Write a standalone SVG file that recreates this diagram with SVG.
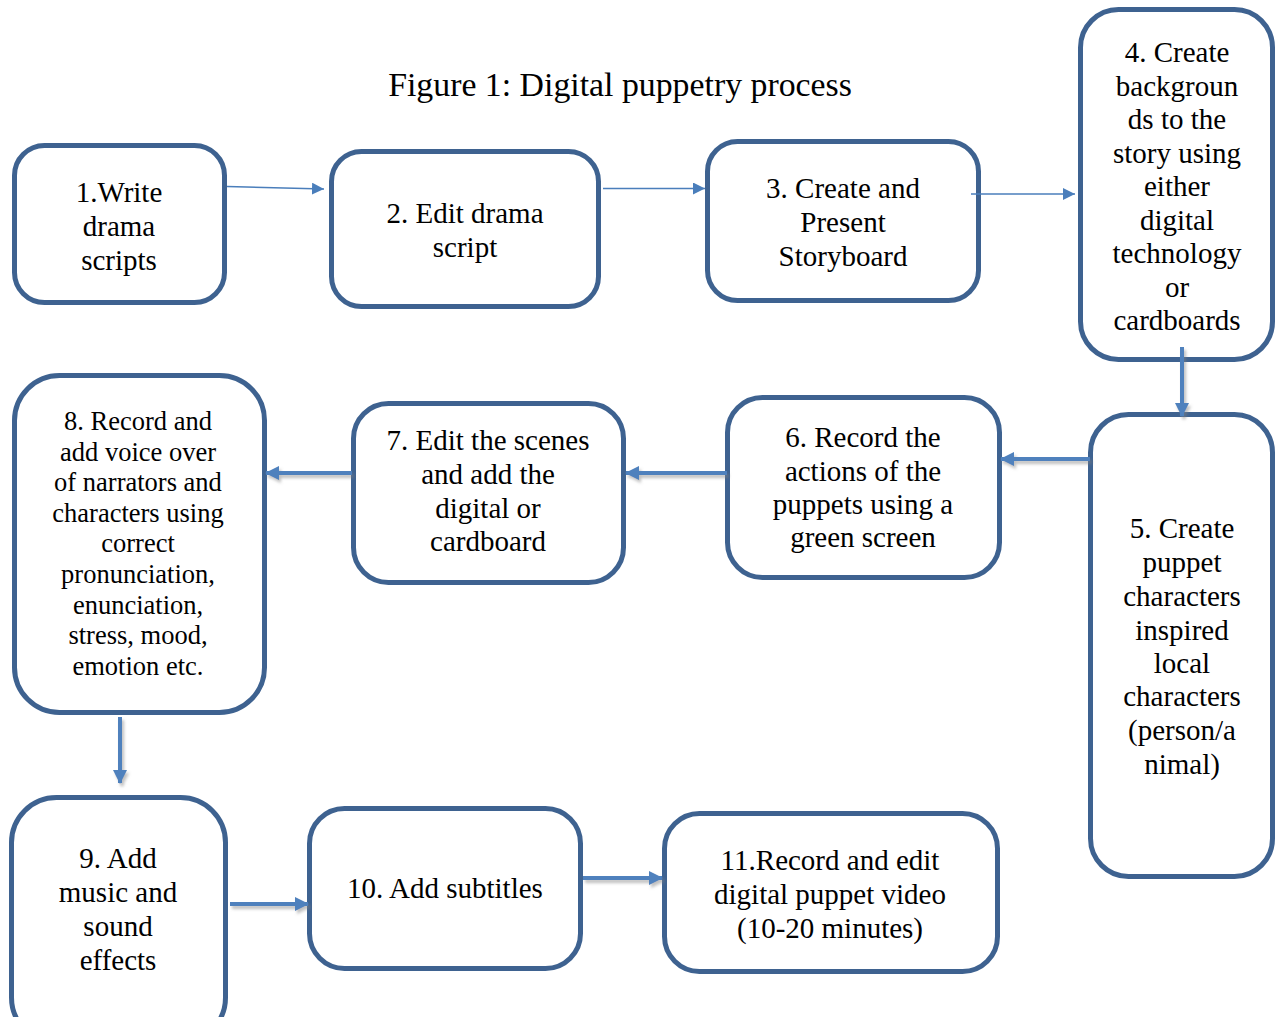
<svg xmlns="http://www.w3.org/2000/svg" width="1276" height="1017" viewBox="0 0 1276 1017">
<style>
.box{fill:#ffffff;stroke:#3E6290;stroke-width:5}
.t{font-family:"Liberation Serif","Times New Roman",serif;font-size:29px;fill:#000;text-anchor:middle}
.s{font-size:26.5px}
.title{font-family:"Liberation Serif","DejaVu Serif",serif;font-size:33.8px;fill:#000;text-anchor:middle}
.thin{stroke:#4A7EBB;stroke-width:1.6;fill:none}
.thick{stroke:#4F81BD;stroke-width:4;fill:none}
</style>
<defs>
<marker id="ah" markerUnits="userSpaceOnUse" markerWidth="12" markerHeight="12" refX="12" refY="6" orient="auto">
<path d="M0,0 L12,6 L0,12 z" fill="#4A7EBB"/>
</marker>
<marker id="ah2" markerUnits="userSpaceOnUse" markerWidth="14" markerHeight="14" refX="13" refY="7" orient="auto">
<path d="M0,0 L14,7 L0,14 z" fill="#4F81BD"/>
</marker>
<filter id="sh" x="-20%" y="-20%" width="140%" height="140%">
<feDropShadow dx="2" dy="3" stdDeviation="1.5" flood-color="#808080" flood-opacity="0.5"/>
</filter>
</defs>
<rect width="1276" height="1017" fill="#ffffff"/>
<text class="title" x="620" y="96">Figure 1: Digital puppetry process</text>

<g id="n1">
<rect class="box" x="14.5" y="145.5" width="210" height="157" rx="30"/>
<text class="t" x="119"><tspan x="119" y="202">1.Write</tspan><tspan x="119" y="236">drama</tspan><tspan x="119" y="270">scripts</tspan></text>
</g>
<g id="n2">
<rect class="box" x="331.5" y="151.5" width="267" height="155" rx="30"/>
<text class="t"><tspan x="465" y="223">2. Edit drama</tspan><tspan x="465" y="257">script</tspan></text>
</g>
<g id="n3">
<rect class="box" x="707.5" y="141.5" width="271" height="159" rx="30"/>
<text class="t"><tspan x="843" y="198">3. Create and</tspan><tspan x="843" y="232">Present</tspan><tspan x="843" y="266">Storyboard</tspan></text>
</g>
<g id="n4">
<rect class="box" x="1080.5" y="9.5" width="192" height="350" rx="38"/>
<text class="t"><tspan x="1177" y="62">4. Create</tspan><tspan x="1177" y="95.5">backgroun</tspan><tspan x="1177" y="129">ds to the</tspan><tspan x="1177" y="163">story using</tspan><tspan x="1177" y="196">either</tspan><tspan x="1177" y="230">digital</tspan><tspan x="1177" y="263">technology</tspan><tspan x="1177" y="297">or</tspan><tspan x="1177" y="330">cardboards</tspan></text>
</g>
<g id="n5">
<rect class="box" x="1090.5" y="414.5" width="182" height="462" rx="38"/>
<text class="t"><tspan x="1182" y="538">5. Create</tspan><tspan x="1182" y="572">puppet</tspan><tspan x="1182" y="606">characters</tspan><tspan x="1182" y="640">inspired</tspan><tspan x="1182" y="673">local</tspan><tspan x="1182" y="706">characters</tspan><tspan x="1182" y="740">(person/a</tspan><tspan x="1182" y="774">nimal)</tspan></text>
</g>
<g id="n6">
<rect class="box" x="727.5" y="397.5" width="272" height="180" rx="35"/>
<text class="t"><tspan x="863" y="447">6. Record the</tspan><tspan x="863" y="481">actions of the</tspan><tspan x="863" y="514">puppets using a</tspan><tspan x="863" y="547">green screen</tspan></text>
</g>
<g id="n7">
<rect class="box" x="353.5" y="403.5" width="270" height="179" rx="35"/>
<text class="t"><tspan x="488" y="450">7. Edit the scenes</tspan><tspan x="488" y="484">and add the</tspan><tspan x="488" y="518">digital or</tspan><tspan x="488" y="551">cardboard</tspan></text>
</g>
<g id="n8">
<rect class="box" x="14.5" y="375.5" width="250" height="337" rx="45"/>
<text class="t s"><tspan x="138" y="430">8. Record and</tspan><tspan x="138" y="460.6">add voice over</tspan><tspan x="138" y="491.2">of narrators and</tspan><tspan x="138" y="521.8">characters using</tspan><tspan x="138" y="552.4">correct</tspan><tspan x="138" y="583">pronunciation,</tspan><tspan x="138" y="613.6">enunciation,</tspan><tspan x="138" y="644.2">stress, mood,</tspan><tspan x="138" y="675">emotion etc.</tspan></text>
</g>
<g id="n9">
<rect class="box" x="11.5" y="797.5" width="214" height="245" rx="45"/>
<text class="t"><tspan x="118" y="868">9. Add</tspan><tspan x="118" y="902">music and</tspan><tspan x="118" y="936">sound</tspan><tspan x="118" y="970">effects</tspan></text>
</g>
<g id="n10">
<rect class="box" x="309.5" y="808.5" width="271" height="160" rx="35"/>
<text class="t"><tspan x="445" y="898">10. Add subtitles</tspan></text>
</g>
<g id="n11">
<rect class="box" x="664.5" y="813.5" width="333" height="158" rx="35"/>
<text class="t"><tspan x="830" y="870">11.Record and edit</tspan><tspan x="830" y="904">digital puppet video</tspan><tspan x="830" y="938">(10-20 minutes)</tspan></text>
</g>

<g id="connectors">
<line class="thin" x1="227" y1="186.5" x2="324" y2="189" marker-end="url(#ah)"/>
<line class="thin" x1="603" y1="188.5" x2="705" y2="188.5" marker-end="url(#ah)"/>
<line class="thin" x1="971" y1="194" x2="1075" y2="194" marker-end="url(#ah)"/>
<g filter="url(#sh)">
<line class="thick" x1="1182" y1="347" x2="1182" y2="416" marker-end="url(#ah2)"/>
<line class="thick" x1="1090" y1="459" x2="1001" y2="459" marker-end="url(#ah2)"/>
<line class="thick" x1="727" y1="473" x2="626" y2="473" marker-end="url(#ah2)"/>
<line class="thick" x1="352" y1="473" x2="266" y2="473" marker-end="url(#ah2)"/>
<line class="thick" x1="120" y1="717" x2="120" y2="783" marker-end="url(#ah2)"/>
<line class="thick" x1="230" y1="904" x2="308" y2="904" marker-end="url(#ah2)"/>
<line class="thick" x1="583" y1="878" x2="662" y2="878" marker-end="url(#ah2)"/>
</g>
</g>
</svg>
